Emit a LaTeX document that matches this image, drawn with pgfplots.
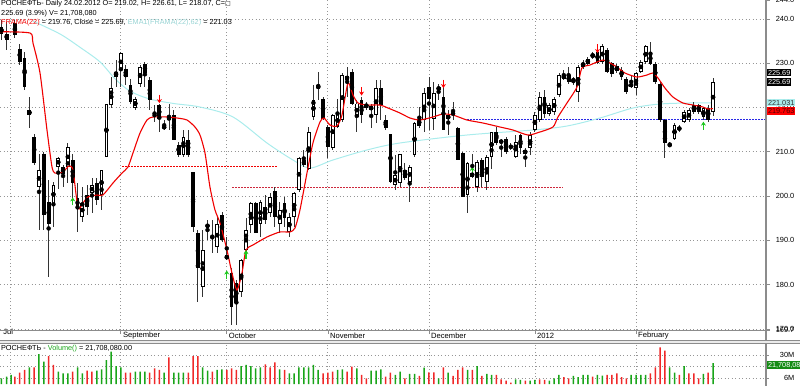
\documentclass[border=0pt]{standalone}
\usepackage{fontspec}
\setmainfont{Liberation Sans}
\newfontfamily\dejavu{DejaVu Sans}
\usepackage{pgfplots}
\pgfplotsset{compat=1.18}
\usepackage{pgfplotstable}
\usetikzlibrary{arrows.meta}
\definecolor{framec}{RGB}{240,0,0}
\definecolor{framed}{RGB}{205,40,60}
\definecolor{emac}{RGB}{170,236,236}
\definecolor{volg}{RGB}{25,165,25}
\definecolor{volr}{RGB}{240,40,40}
\definecolor{gridc}{RGB}{150,150,150}
\definecolor{axc}{RGB}{140,140,140}
\definecolor{bluel}{RGB}{40,40,230}
\definecolor{arrg}{RGB}{30,200,30}

\pgfplotstableread{
x O H L C
-0.8 238.2 239.7 235.2 236.7
0.3 235.3 239.3 232.9 236.5
2 239.1 239.7 235.6 236.4
3 233.3 234.4 229.5 230.3
4 231.1 232.6 223.9 224.7
5 218.3 222.4 215.3 219.4
6 213.4 214.1 207.0 207.4
7 202.1 209.6 192.3 205.9
8 209.6 210.0 192.3 195.7
9 198.7 203.6 181.8 193.8
10 198.3 203.2 193.1 202.5
11 206.6 208.9 201.7 208.7
12 206.6 207.0 202.1 205.0
13 206.6 211.9 202.9 211.1
14 208.1 209.6 199.5 202.9
15 199.5 203.0 191.9 197.5
16 195.3 202.1 194.2 198.4
17 200.2 202.5 195.7 197.5
18 200.7 204.1 196.2 202.5
19 203.0 204.1 198.0 199.1
20 200.2 206.0 196.9 205.9
21 208.9 220.9 208.9 220.9
22 220.5 226.9 219.8 224.3
23 226.9 230.7 224.7 228.0
24 228.4 232.6 224.7 232.2
25 228.8 229.6 225.0 226.9
26 225.0 226.5 220.9 221.3
27 219.8 222.4 219.4 222.0
28 225.4 229.6 224.7 229.2
29 229.9 230.3 224.7 227.7
30 226.2 226.9 219.4 221.7
31 218.6 220.5 216.8 217.9
32 220.5 220.9 214.5 217.5
33 215.3 217.1 214.9 215.8
34 217.9 220.9 214.9 217.1
35 218.3 219.4 212.6 212.6
36 211.5 212.3 208.9 209.3
37 209.3 214.9 208.9 213.4
38 212.6 214.9 208.9 209.3
39 205.5 205.5 192.0 193.1
40 191.6 192.3 176.2 183.7
41 179.5 192.3 177.3 187.8
42 192.9 194.6 190.1 193.7
43 190.8 194.6 187.1 190.6
44 188.6 195.3 187.1 193.8
45 195.7 196.5 189.7 190.1
46 185.7 190.8 185.6 186.7
47 182.6 183.7 170.9 175.0
48 180.3 181.1 170.9 175.8
49 178.4 185.9 177.3 185.6
50 187.8 195.0 187.1 192.3
51 193.5 198.7 191.6 198.4
52 198.5 198.7 191.6 191.7
53 193.8 199.1 190.8 198.7
54 197.6 200.2 193.8 194.6
55 196.1 200.6 195.3 199.8
56 201.2 202.1 193.1 195.3
57 193.8 198.7 191.6 196.8
58 198.5 199.8 193.1 195.0
59 192.0 196.1 190.8 195.3
60 195.3 201.0 193.1 200.6
61 201.4 208.9 201.0 208.5
62 208.1 210.4 206.6 207.0
63 206.2 215.6 205.9 214.5
64 217.9 225.0 217.1 221.7
65 224.3 228.0 221.7 225.0
66 222.0 222.4 217.1 217.5
67 215.6 216.0 208.5 211.1
68 210.8 218.6 210.4 218.3
69 215.6 222.0 215.3 218.6
70 217.1 227.7 216.8 227.3
71 227.1 229.2 222.4 226.3
72 228.0 228.8 220.5 220.9
73 217.9 221.7 214.5 220.9
74 221.8 222.4 216.4 218.3
75 220.9 221.3 219.4 220.0
76 219.4 220.9 215.3 220.3
77 218.3 226.2 216.4 224.3
78 224.3 226.2 217.1 220.5
79 217.1 218.3 214.9 215.3
80 214.1 214.1 202.9 203.2
81 202.5 209.3 201.4 204.7
82 202.9 209.6 202.1 209.6
83 205.9 207.4 203.6 204.0
84 203.2 207.0 198.7 206.6
85 209.3 216.8 208.9 216.4
86 217.5 220.1 215.3 215.8
87 217.1 224.3 214.5 223.2
88 224.7 226.9 214.9 221.9
89 217.5 225.8 214.9 223.2
90 223.9 225.4 221.7 224.7
91 222.4 225.8 214.9 214.9
92 217.3 219.4 213.8 218.3
93 218.6 221.3 217.1 218.6
94 215.4 215.6 208.1 208.1
95 209.8 210.0 199.9 199.9
96 200.2 207.7 196.1 207.5
97 205.3 209.6 204.0 204.4
98 202.1 208.1 201.0 207.7
99 208.1 208.5 202.1 204.4
100 203.2 209.3 201.4 208.9
101 208.9 214.5 206.2 214.4
102 214.4 215.6 211.5 211.9
103 212.0 213.0 208.9 212.6
104 213.0 213.4 209.6 210.0
105 211.1 211.9 210.4 211.1
106 208.9 213.8 208.5 212.3
107 213.8 214.1 209.6 210.8
108 209.6 210.8 206.6 210.4
109 210.8 214.5 209.3 213.8
110 214.9 219.0 214.5 218.3
111 217.1 223.5 216.8 222.4
112 222.4 223.9 217.7 218.6
113 218.6 221.0 218.0 220.5
114 219.0 222.4 218.3 222.0
115 222.8 227.7 222.4 227.3
116 226.5 228.4 226.2 227.3
117 227.3 229.2 225.4 225.8
118 225.8 226.9 225.0 226.5
119 223.5 229.6 221.3 229.2
120 229.2 230.7 228.8 230.1
121 229.9 231.4 229.5 231.0
122 231.4 232.6 231.0 232.0
123 232.6 233.0 229.9 230.1
124 230.3 234.3 229.9 233.8
125 232.9 233.5 227.7 228.0
126 230.0 230.3 226.9 227.5
127 228.2 229.9 227.7 229.3
128 228.4 229.2 226.2 226.9
129 226.5 226.9 223.1 223.5
130 225.4 227.3 224.3 224.7
131 224.3 228.0 222.8 227.7
132 228.0 230.7 227.7 230.3
133 230.3 234.1 229.9 233.8
134 232.3 234.8 229.5 229.9
135 229.9 230.3 225.4 225.8
136 225.4 225.8 216.8 217.1
137 217.1 217.5 208.5 211.9
138 211.5 212.2 211.1 211.5
139 213.0 216.4 212.6 216.0
140 215.6 216.0 214.5 214.9
141 216.8 219.4 216.4 219.0
142 217.1 219.8 216.8 219.4
143 220.5 221.3 218.6 219.0
144 220.5 220.9 218.6 219.0
145 217.9 220.1 217.1 219.8
146 220.0 220.5 216.8 217.1
147 219.02 226.61 218.07 225.69
}\candles

\pgfplotstableread{
x v g
-0.8 5.9 1
0.3 7.7 1
1.2 9.4 1
2 7.7 0
3 11.8 0
4 14.5 0
5 17.3 1
6 17.3 0
7 31.0 1
8 23.1 1
9 28.9 0
10 19.7 0
11 12.8 1
12 11.1 1
13 11.1 1
14 12.8 0
15 17.3 1
16 11.1 1
17 13.8 0
18 12.8 0
19 13.8 1
20 15.2 1
21 24.8 1
22 33.4 1
23 18.6 1
24 17.3 1
25 11.8 0
26 11.8 0
27 12.8 1
28 12.8 1
29 12.8 1
30 11.8 0
31 16.2 0
32 14.5 0
33 11.8 1
34 27.6 0
35 11.8 1
36 11.8 1
37 11.8 1
38 11.8 0
39 28.9 0
40 28.9 0
41 17.3 1
42 13.8 1
43 12.8 0
44 14.5 1
45 15.2 1
46 14.5 0
47 16.2 0
48 14.5 0
49 18.6 1
50 19.7 1
51 18.6 1
52 16.2 1
53 17.3 1
54 20.4 0
55 17.3 0
56 22.4 0
57 15.2 1
58 14.5 0
59 11.1 1
60 11.1 1
61 17.3 1
62 17.3 1
63 17.3 1
64 19.7 1
65 14.5 1
66 11.1 0
67 11.8 0
68 12.8 0
69 14.5 1
70 15.2 1
71 12.8 0
72 18.0 0
73 16.2 1
74 9.4 0
75 5.9 0
76 13.8 1
77 13.8 1
78 15.2 1
79 7.7 0
80 11.8 0
81 9.4 1
82 12.8 1
83 5.9 0
84 10.4 1
85 10.4 1
86 8.3 0
87 16.9 1
88 12.1 0
89 12.1 0
90 5.9 1
91 17.3 0
92 11.8 1
93 8.3 0
94 14.5 0
95 17.3 0
96 14.5 1
97 14.5 0
98 18.6 1
99 8.3 0
100 10.4 1
101 9.4 1
102 9.4 0
103 4.9 0
104 3.5 0
105 1.5 0
106 4.9 1
107 4.2 1
108 3.5 0
109 3.5 1
110 4.2 1
111 4.9 0
112 4.2 0
113 3.5 1
114 5.9 1
115 9.4 1
116 7.0 0
117 5.9 0
118 8.3 1
119 7.0 1
120 9.4 1
121 9.4 1
122 7.7 0
123 9.4 1
124 8.7 1
125 9.4 0
126 9.4 0
127 11.1 0
128 7.0 0
129 5.9 0
130 9.4 1
131 9.4 1
132 9.4 1
133 9.4 1
134 11.1 0
135 17.3 0
136 37.9 0
137 34.4 0
138 17.3 1
139 11.8 1
140 9.4 0
141 18.6 1
142 11.1 0
143 11.1 0
144 5.9 0
145 10.4 1
146 11.8 0
147 21.7 1
}\vol

\pgfplotstableread{
x y
-1.10 237.11
5.13 236.82
5.75 234.56
7.21 227.79
8.66 214.92
9.70 206.57
10.32 205.21
11.36 205.21
12.40 205.89
13.23 206.79
14.06 205.89
15.10 197.31
16.14 198.44
17.17 199.80
19.04 200.25
20.29 200.25
22.37 202.96
24.24 205.21
25.48 206.57
26.52 209.73
27.98 214.24
29.43 217.18
30.67 217.86
33.58 217.86
35.66 217.63
37.74 217.18
39.40 215.60
40.44 213.79
41.48 209.73
42.51 202.05
43.55 196.88
44.59 193.93
46.04 187.83
47.08 182.64
48.12 178.80
49.16 182.64
49.99 187.83
51.44 188.96
54.35 190.77
57.05 191.90
59.13 191.90
60.17 192.80
61.20 196.86
62.66 205.21
63.90 211.99
65.36 216.73
66.19 217.63
67.44 216.05
68.89 215.82
69.93 218.31
71.17 225.53
72.21 222.82
73.25 221.02
75.12 220.56
77.82 220.56
79.48 219.89
81.97 218.76
84.05 217.63
86.13 217.18
88.83 217.86
90.90 218.53
92.98 218.31
95.89 217.18
99.21 216.50
102.74 215.60
105.44 214.92
108.56 213.79
111.05 214.47
113.75 215.60
114.79 217.86
116.66 221.02
118.74 224.63
119.77 228.92
121.43 229.59
122.89 230.27
124.13 230.72
125.58 230.05
127.04 229.14
128.70 227.79
131.19 226.88
133.27 227.34
134.52 227.79
135.56 226.66
137.01 224.40
138.67 222.37
140.75 221.02
142.82 220.56
144.90 220.11
145.94 219.66
146.98 219.76
}\frama

\pgfplotstableread{
x y
5.75 239.5
11.36 236.6
15.51 233.6
19.67 230.3
22.78 226.5
25.90 223.7
30.05 221.9
35.0 220.9
40.44 220.11
47.29 217.86
54.35 211.99
59.75 208.15
63.28 206.34
68.06 208.15
75.12 210.41
81.97 211.99
95.89 213.79
109.59 214.92
116.66 215.82
123.51 217.63
130.37 219.89
135.97 220.79
142.20 221.02
146.98 221.03
}\ema

\pgfplotstableread{
x y v
14 197.9 1.8
46 181.3 1.9
50 185.9 1.9
97 204.8 1.8
145 215.0 1.8
}\uparr

\pgfplotstableread{
x y v
32 222.9 -1.9
74 224.6 -1.9
91 226.3 -1.9
123 234.3 -2.0
}\dnarr

\begin{document}
\begin{tikzpicture}[x=1pt,y=1pt,font=\fontsize{7.3}{8.6}\selectfont]
\useasboundingbox (0pt,0pt) rectangle (800pt,-386pt);
\begin{axis}[
  at={(0pt,0pt)}, anchor=north west, scale only axis,
  width=766pt, height=330pt,
  xmin=-1.1, xmax=158, ymin=169.77, ymax=244.27,
  axis x line*=bottom, axis y line*=right,
  axis line style={draw=none},
  tick align=outside, major tick length=4pt,
  tick style={axc, line width=0.7pt},
  xtick={24,46,67,88,110,131},
  xticklabels={September,October,November,December,2012,February},
  extra x ticks={1},
  extra x tick labels={Jul},
  extra x tick style={major tick length=0pt, xticklabel style={xshift=-9pt}},
  ytick={170,180,190,200,210,220,230,240},
  yticklabels={170.0,180.0,190.0,200.0,210.0,220.0,230.0,240.0},
  extra y ticks={169.77,244.27},
  extra y tick labels={169.7,244.0},
  extra y tick style={grid=none},
  grid=major,
  grid style={gridc, dash pattern=on 0.9pt off 2.6pt, line width=0.8pt},
  xticklabel style={anchor=west, inner sep=0pt, xshift=2pt, yshift=-2pt, font=\fontsize{7.6}{9}\selectfont},
  yticklabel style={anchor=east, inner sep=0pt, xshift=24.5pt, font=\fontsize{7.4}{8.8}\selectfont},
]
% horizontal signal lines
\addplot[framec, line width=0.8pt, dash pattern=on 1.5pt off 1.5pt] coordinates {(24.24,206.6) (56.6,206.6)};
\addplot[framed, line width=0.8pt, dash pattern=on 1.5pt off 1.5pt] coordinates {(47.1,202.0) (115.8,202.0)};
\addplot[bluel, line width=0.9pt, dash pattern=on 1.5pt off 1.5pt] coordinates {(95.9,217.2) (158,217.2)};
% EMA
\addplot[emac, line width=1pt, smooth] table[x=x,y=y] {\ema};
% wicks
\addplot[only marks, mark=none, error bars/.cd, y dir=both, y explicit, error mark=none,
  error bar style={draw=black!80, line width=0.9pt}]
  table[x=x, y expr={(\thisrow{H}+\thisrow{L})/2}, y error expr={(\thisrow{H}-\thisrow{L})/2}] {\candles};
% body outlines / black bodies
\addplot[only marks, mark=none, error bars/.cd, y dir=both, y explicit, error mark=none,
  error bar style={draw=black, line width=3.8pt}]
  table[x=x, y expr={(\thisrow{O}+\thisrow{C})/2}, y error expr={max(abs(\thisrow{C}-\thisrow{O})/2,0.12)}] {\candles};
% white bodies
\addplot[only marks, mark=none, restrict expr to domain={\thisrow{C}-\thisrow{O}}{0.01:1000},
  error bars/.cd, y dir=both, y explicit, error mark=none,
  error bar style={draw=white, line width=1.8pt}]
  table[x=x, y expr={(\thisrow{O}+\thisrow{C})/2}, y error expr={max(abs(\thisrow{C}-\thisrow{O})/2-0.22,0)}] {\candles};
% FRAMA
\addplot[framec, line width=1.1pt, smooth, tension=0.4] table[x=x,y=y] {\frama};
% signal arrows
\addplot[draw=arrg, line width=1.3pt, -{Stealth[length=4pt,width=5pt]}, quiver={u=0, v=\thisrow{v}}] table[x=x,y=y] {\uparr};
\addplot[draw=red, line width=1.3pt, -{Stealth[length=4pt,width=5pt]}, quiver={u=0, v=\thisrow{v}}] table[x=x,y=y] {\dnarr};
\end{axis}

\begin{axis}[
  at={(0pt,-345pt)}, anchor=north west, scale only axis,
  width=766pt, height=39pt,
  xmin=-1.1, xmax=158, ymin=0, ymax=40.3,
  axis x line*=bottom, axis y line*=right,
  axis line style={draw=none},
  tick align=outside, major tick length=2.5pt,
  tick style={axc, line width=0.7pt},
  xtick={1,24,46,67,88,110,131}, xticklabels={},
  x tick style={draw=none},
  ytick={6,18,30}, yticklabels={6M,18M,30M},
  grid=major,
  grid style={gridc, dash pattern=on 0.9pt off 2.6pt, line width=0.8pt},
  yticklabel style={anchor=east, inner sep=0pt, xshift=26pt, font=\fontsize{7.4}{8.8}\selectfont},
]
\addplot[ybar, bar width=1.5pt, bar shift=0pt, fill=volg, draw=none,
  restrict expr to domain={\thisrow{g}}{0.5:1.5}] table[x=x,y=v] {\vol};
\addplot[ybar, bar width=1.5pt, bar shift=0pt, fill=volr, draw=none,
  restrict expr to domain={\thisrow{g}}{-0.5:0.5}] table[x=x,y=v] {\vol};
\end{axis}

% frame lines
\draw[axc, line width=1.2pt] (766pt,0pt) -- (766pt,-386pt);
\draw[axc, line width=0.9pt] (0pt,-330pt) -- (766pt,-330pt);
\fill[black!8] (0pt,-340.5pt) rectangle (800pt,-343.5pt);
\draw[axc, line width=0.9pt] (0pt,-340.5pt) -- (800pt,-340.5pt);
\draw[axc, line width=0.9pt] (0pt,-343.5pt) -- (800pt,-343.5pt);

% titles
\node[anchor=west, inner sep=0pt] at (1pt,-4pt) {РОСНЕФТЬ- Daily 24.02.2012 O= 219.02, H= 226.61, L= 218.07, C={\dejavu\fontsize{6}{7}\selectfont □}};
\node[anchor=west, inner sep=0pt] at (1pt,-13.5pt) {225.69 (3.9\%) V= 21,708,080};
\node[anchor=west, inner sep=0pt] at (1pt,-23pt) {\textcolor{framec}{FRAMA(22)} = 219.76, Close = 225.69, \textcolor{emac!90!black}{EMA1(FRAMA(22),62)} = 221.03};
\node[anchor=west, inner sep=0pt] at (1pt,-348.5pt) {РОСНЕФТЬ - \textcolor{volg}{Volume()} = 21,708,080.00};

% last value boxes
\node[anchor=west, fill=black, text=white, inner sep=0.8pt, minimum height=7.5pt] at (767pt,-72.5pt) {225.69};
\node[anchor=west, fill=black, text=white, inner sep=0.8pt, minimum height=7.5pt] at (767pt,-82pt) {225.69};
\node[anchor=west, fill=emac, text=black!80, inner sep=0.8pt, minimum height=7.5pt] at (767pt,-102.5pt) {221.031};
\node[anchor=west, fill=red, text=black!70!red, inner sep=0.8pt, minimum height=7.5pt] at (767pt,-111pt) {219.763};
\node[anchor=west, fill=volg!85!black, text=white, inner sep=0.8pt, minimum height=7.5pt] at (767pt,-365pt) {21,708,08};
\end{tikzpicture}
\end{document}
